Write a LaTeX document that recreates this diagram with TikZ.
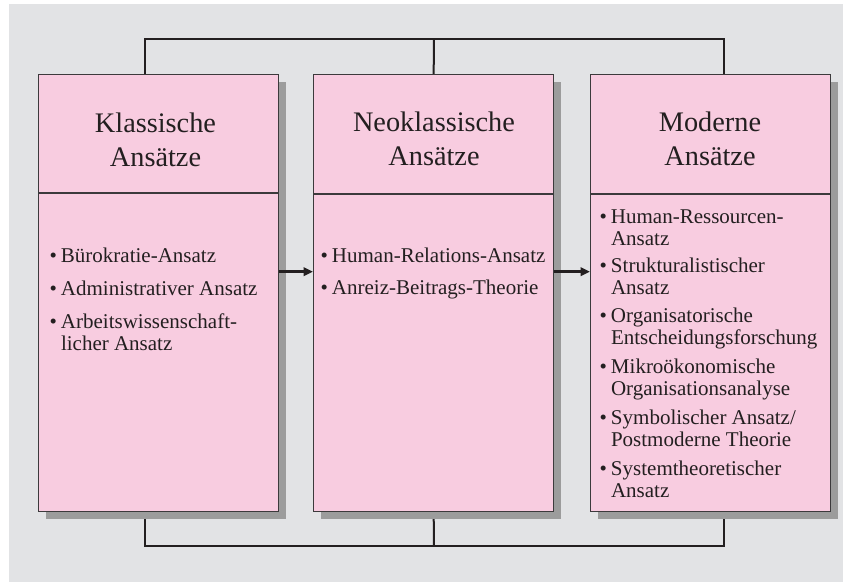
\documentclass[tikz,border=0pt]{standalone}
\usepackage{fontspec}
\setmainfont{Liberation Serif}
\usetikzlibrary{arrows.meta,shadows,backgrounds}
\definecolor{bg}{HTML}{E2E3E5}
\definecolor{pinkbox}{HTML}{F8CCE0}
\definecolor{shade}{HTML}{9C9C9C}
\definecolor{edge}{HTML}{3C3A3C}
\definecolor{ink}{HTML}{231F20}
\newcommand{\bul}{\makebox[11.5pt][l]{\textbullet}}
\newcommand{\twoitem}[3]{\begin{tabular}[t]{@{}l@{}}\fontsize{21}{#1}\selectfont\bul #2\\\fontsize{21}{#1}\selectfont\hspace{11.5pt}#3\end{tabular}}
\begin{document}
\begin{tikzpicture}[x=1pt,y=-1pt,
  panel/.style={draw=edge,line width=1.3pt,fill=pinkbox,minimum width=240pt,minimum height=437pt,anchor=north west,inner sep=0pt,
    drop shadow={shadow xshift=7pt,shadow yshift=-7pt,opacity=1,fill=shade,draw=none}},
  divider/.style={draw=edge,line width=1.3pt},
  link/.style={draw=ink,line width=2pt},
  flow/.style={draw=ink,line width=2.6pt,-{Triangle[length=9.5pt,width=8.5pt]}},
  title/.style={font=\fontsize{28.3}{34}\selectfont,text=ink,align=center,inner sep=0pt,anchor=base},
  item/.style={font=\fontsize{21}{22}\selectfont,text=ink,inner sep=0pt,anchor=base west},
]
\useasboundingbox (0,0) rectangle (843,582);
\begin{pgfonlayer}{background}
\fill[white] (0,0) rectangle (843,582);
\fill[bg] (9,4) rectangle (843,582);
\end{pgfonlayer}

% boxes
\node[panel] (k) at (38,74) {};
\node[panel] (n) at (313,74) {};
\node[panel] (m) at (590,74) {};
\draw[divider] (k.west |- 0,193) -- (k.east |- 0,193);
\draw[divider] (n.west |- 0,194) -- (n.east |- 0,194);
\draw[divider] (m.west |- 0,194) -- (m.east |- 0,194);

% connectors behind boxes
\coordinate (topbar) at (434,39);
\coordinate (botbar) at (434,546);
\begin{pgfonlayer}{background}
\draw[link] ([xshift=-13.5pt]k.north) |- (topbar) -| ([xshift=13pt]m.north);
\draw[link] (n.north) -- (topbar);
\draw[link] ([xshift=-13.5pt]k.south) |- (botbar) -| ([xshift=13pt]m.south);
\draw[link] (n.south) -- (botbar);
\end{pgfonlayer}

% flow arrows
\draw[flow] ([yshift=21.5pt]k.east) -- ([yshift=21.5pt]n.west);
\draw[flow] ([yshift=21.5pt]n.east) -- ([yshift=21.5pt]m.west);

% titles (base anchor = last line)
\node[title] (kt) at (155.5,166) {Klassische\\Ansätze};
\node[title] (nt) at (434,165) {Neoklassische\\Ansätze};
\node[title] (mt) at (710,165.5) {Moderne\\Ansätze};

% items box 1
\node[item] (k1) at (49.3,262) {\bul Bürokratie-Ansatz};
\node[item] (k2) at (49.3,295) {\bul Administrativer Ansatz};
\node[item] (k3) at (49.3,328) {\twoitem{24.7}{Arbeitswissenschaft-}{licher Ansatz}};

% items box 2
\node[item] (n1) at (320.3,262) {\bul Human-Relations-Ansatz};
\node[item] (n2) at (320.3,294) {\bul Anreiz-Beitrags-Theorie};

% items box 3
\node[item] (m1) at (599.3,223) {\twoitem{21.5}{Human-Ressourcen-}{Ansatz}};
\node[item] (m2) at (599.3,272.5) {\twoitem{21.5}{Strukturalistischer}{Ansatz}};
\node[item] (m3) at (599.3,322) {\twoitem{22.5}{Organisatorische}{Entscheidungsforschung}};
\node[item] (m4) at (599.3,373.5) {\twoitem{21.5}{Mikroökonomische}{Organisationsanalyse}};
\node[item] (m5) at (599.3,424) {\twoitem{21.5}{Symbolischer Ansatz/}{Postmoderne Theorie}};
\node[item] (m6) at (599.3,475) {\twoitem{21.5}{Systemtheoretischer}{Ansatz}};
\end{tikzpicture}
\end{document}
